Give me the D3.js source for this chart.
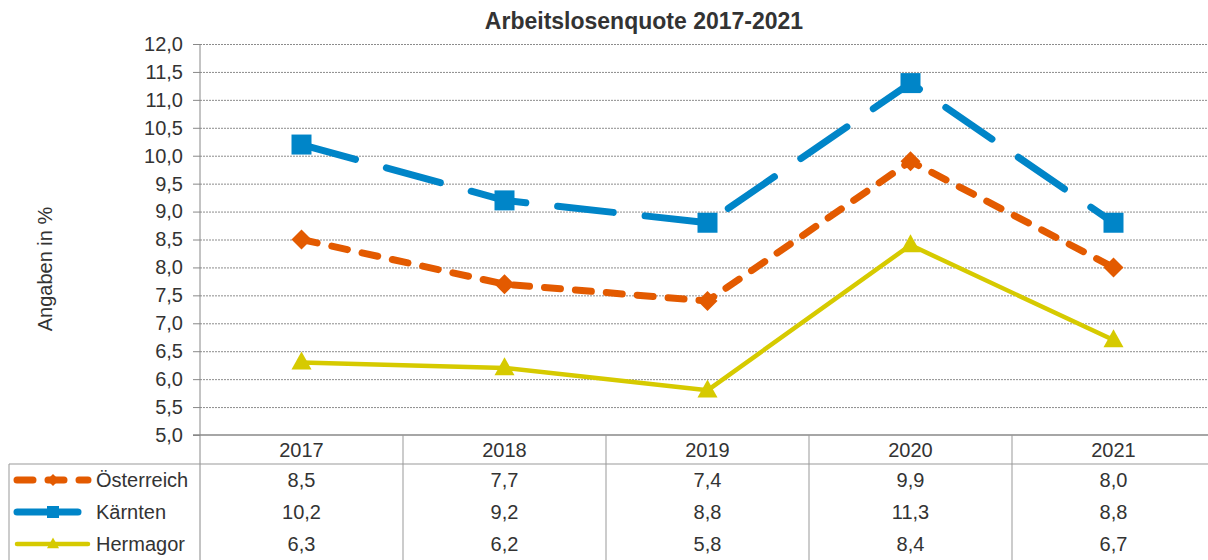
<!DOCTYPE html>
<html>
<head>
<meta charset="utf-8">
<script src="https://cdn.jsdelivr.net/npm/d3@7"></script>
<style>
    body { margin: 0; background: #fff; }
    svg { display: block; font-family: "Liberation Sans", Arial, sans-serif; }
</style>
</head>
<body>
<div id="chart"></div>
<script>
// data
const years = ['2017', '2018', '2019', '2020', '2021']
const oesterreich = [8.5, 7.7, 7.4, 9.9, 8.0]
const kaernten = [10.2, 9.2, 8.8, 11.3, 8.8]
const hermagor = [6.3, 6.2, 5.8, 8.4, 6.7]
const seriesNames = ['Österreich', 'Kärnten', 'Hermagor']
const yTicks = [5, 5.5, 6, 6.5, 7, 7.5, 8, 8.5, 9, 9.5, 10, 10.5, 11, 11.5, 12]

const series = [
    { name: seriesNames[0], values: oesterreich, color: '#e35a00', width: 7, dash: '16,15', keyDash: '16,15', marker: 'diamond' },
    { name: seriesNames[1], values: kaernten, color: '#0085c8', width: 7, dash: '56,32', keyDash: null, marker: 'square' },
    { name: seriesNames[2], values: hermagor, color: '#d6ca00', width: 4.5, dash: null, keyDash: null, marker: 'triangle' }
]

const fullWidth = 1208, fullHeight = 560
const plot = { left: 200, right: 1215, top: 44, bottom: 435 }
const tableLeft = 9, headerBottom = 464, rowHeight = 32

const locale = d3.formatLocale({ decimal: ',', thousands: '.', grouping: [3], currency: ['', '€'] })
const fmt = locale.format('.1f')

const svg = d3.select('#chart')
    .append('svg')
    .attr('width', fullWidth)
    .attr('height', fullHeight)

const x = d3.scaleBand().domain(years).range([plot.left, plot.right]).padding(0)
const y = d3.scaleLinear().domain([5, 12]).range([plot.bottom, plot.top])

// title
svg.append('text')
    .attr('x', 644)
    .attr('y', 29)
    .attr('text-anchor', 'middle')
    .attr('font-size', 23)
    .attr('font-weight', 'bold')
    .attr('fill', '#333')
    .text('Arbeitslosenquote 2017-2021')

// y axis title
svg.append('text')
    .attr('transform', 'translate(52,269) rotate(-90)')
    .attr('text-anchor', 'middle')
    .attr('font-size', 20)
    .attr('fill', '#333')
    .text('Angaben in %')

// grid lines
svg.append('g')
    .attr('class', 'grid')
    .attr('transform', 'translate(' + plot.left + ',0)')
    .call(d3.axisLeft(y).tickValues(yTicks.filter(d => d > 5)).tickSize(-(plot.right - plot.left)).tickFormat(''))
    .call(g => g.select('.domain').remove())
    .call(g => g.selectAll('line')
        .attr('stroke', '#8c8c8c')
        .attr('stroke-dasharray', '2,1'))

// y axis
svg.append('g')
    .attr('class', 'y-axis')
    .attr('transform', 'translate(' + plot.left + ',0)')
    .call(d3.axisLeft(y).tickValues(yTicks).tickSize(7).tickPadding(10).tickFormat(fmt))
    .call(g => g.select('.domain').remove())
    .call(g => g.selectAll('line').attr('stroke', '#888'))
    .call(g => g.selectAll('text')
        .attr('font-size', 20)
        .attr('fill', '#333')
        .attr('font-family', '"Liberation Sans", Arial, sans-serif'))

// table lines
let table = svg.append('g').attr('class', 'table')

table.append('line')
    .attr('x1', plot.left).attr('x2', plot.left)
    .attr('y1', plot.top).attr('y2', fullHeight)
    .attr('stroke', '#888')

table.append('line')
    .attr('x1', plot.left - 7).attr('x2', plot.right)
    .attr('y1', plot.bottom).attr('y2', plot.bottom)
    .attr('stroke', '#888')
    .attr('stroke-width', 1.5)

table.append('line')
    .attr('x1', tableLeft).attr('x2', plot.right)
    .attr('y1', headerBottom).attr('y2', headerBottom)
    .attr('stroke', '#999')

table.append('line')
    .attr('x1', tableLeft).attr('x2', tableLeft)
    .attr('y1', headerBottom).attr('y2', fullHeight)
    .attr('stroke', '#999')

table.selectAll('.sep')
    .data(years.slice(1))
    .enter()
    .append('line')
    .attr('class', 'sep')
    .attr('x1', d => x(d)).attr('x2', d => x(d))
    .attr('y1', plot.bottom).attr('y2', fullHeight)
    .attr('stroke', '#999')

// header row with the years
table.selectAll('.year')
    .data(years)
    .enter()
    .append('text')
    .attr('class', 'year')
    .attr('x', d => x(d) + x.bandwidth() / 2)
    .attr('y', (plot.bottom + headerBottom) / 2)
    .attr('dy', '0.35em')
    .attr('text-anchor', 'middle')
    .attr('font-size', 20)
    .attr('fill', '#333')
    .text(d => d)

function markerPath(type, size) {
    if (type === 'square') return d3.symbol().type(d3.symbolSquare).size(size * size)()
    if (type === 'diamond') {
        let r = size / 2
        return 'M0,' + (-r) + 'L' + r + ',0L0,' + r + 'L' + (-r) + ',0Z'
    }
    let h = size * 0.9
    return 'M0,' + (-h * 0.6) + 'L' + (size / 2) + ',' + (h * 0.4) + 'L' + (-size / 2) + ',' + (h * 0.4) + 'Z'
}

const line = d3.line()
    .x((d, i) => x(years[i]) + x.bandwidth() / 2)
    .y(d => y(d))

// lines and markers
series.forEach(s => {
    let g = svg.append('g').attr('class', 'series')

    g.append('path')
        .datum(s.values)
        .attr('d', line)
        .attr('fill', 'none')
        .attr('stroke', s.color)
        .attr('stroke-width', s.width)
        .attr('stroke-linecap', s.dash ? 'round' : 'butt')
        .attr('stroke-linejoin', 'round')
        .attr('stroke-dasharray', s.dash)

    g.selectAll('.marker')
        .data(s.values)
        .enter()
        .append('path')
        .attr('class', 'marker')
        .attr('transform', (d, i) => 'translate(' + (x(years[i]) + x.bandwidth() / 2) + ',' + y(d) + ')')
        .attr('d', markerPath(s.marker, 20))
        .attr('fill', s.color)
})

// table rows: legend key, name and values
series.forEach((s, r) => {
    let cy = headerBottom + rowHeight / 2 + r * rowHeight
    let row = table.append('g').attr('class', 'row')

    row.append('line')
        .attr('x1', 17).attr('x2', s.marker === 'square' ? 78 : 88)
        .attr('y1', cy).attr('y2', cy)
        .attr('stroke', s.color)
        .attr('stroke-width', s.width)
        .attr('stroke-linecap', 'round')
        .attr('stroke-dasharray', s.keyDash)

    row.append('path')
        .attr('transform', 'translate(53,' + cy + ')')
        .attr('d', markerPath(s.marker, 12))
        .attr('fill', s.color)

    row.append('text')
        .attr('x', 96)
        .attr('y', cy)
        .attr('dy', '0.35em')
        .attr('font-size', 20)
        .attr('fill', '#333')
        .text(s.name)

    row.selectAll('.val')
        .data(s.values)
        .enter()
        .append('text')
        .attr('class', 'val')
        .attr('x', (d, i) => x(years[i]) + x.bandwidth() / 2)
        .attr('y', cy)
        .attr('dy', '0.35em')
        .attr('text-anchor', 'middle')
        .attr('font-size', 20)
        .attr('fill', '#333')
        .text(d => fmt(d))
})
</script>
</body>
</html>
